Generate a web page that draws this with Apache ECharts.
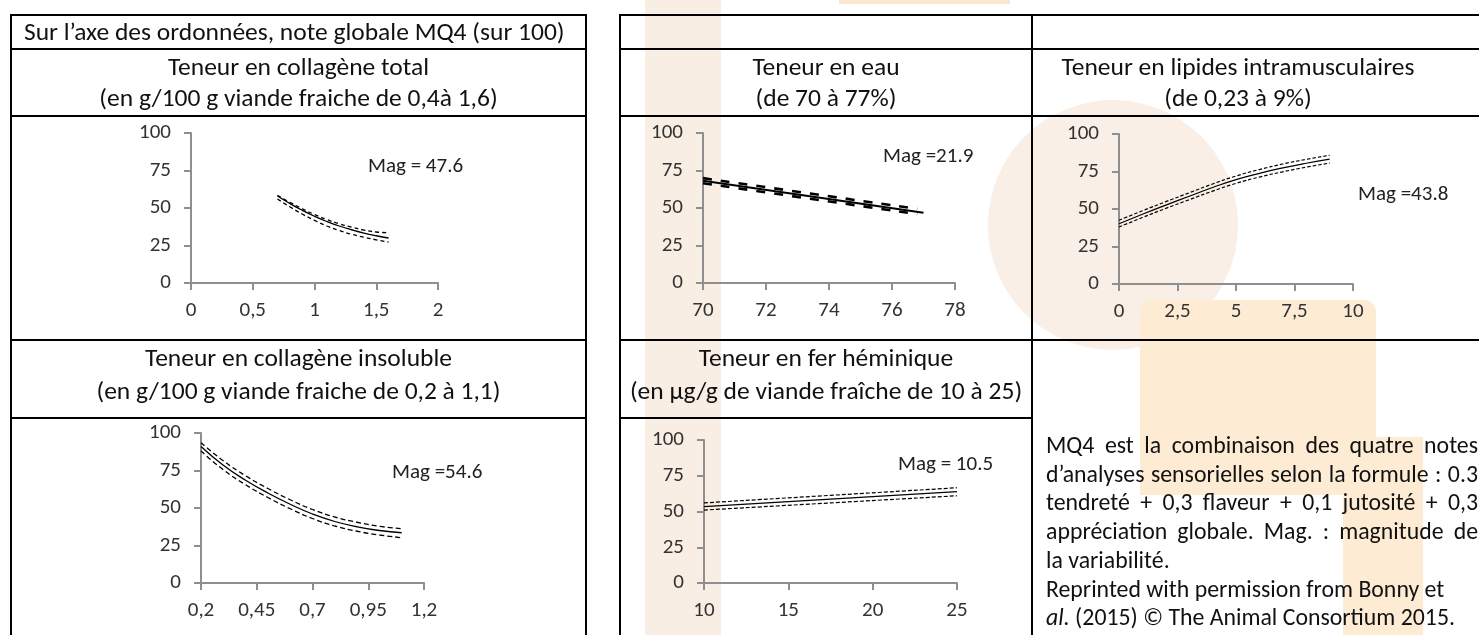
<!DOCTYPE html>
<html>
<head>
<meta charset="utf-8">
<script src="https://cdn.jsdelivr.net/npm/echarts@6/dist/echarts.min.js"></script>
<style>
  html, body { margin: 0; padding: 0; background: #fff; }
  #page { position: relative; width: 1479px; height: 635px; overflow: hidden; font-family: Carlito, Lato, sans-serif; color: #111; }
  .bg { position: absolute; z-index: 0; }
  #chart { position: absolute; left: 0; top: 0; width: 1479px; height: 635px; z-index: 1; }
  .ln { position: absolute; background: #000; z-index: 2; }
  .txt { position: absolute; z-index: 2; white-space: nowrap; font-size: 25.5px; line-height: 31px; text-align: center; }
  .note { position: absolute; z-index: 2; left: 1046px; top: 431px; width: 432px; font-size: 23.8px; line-height: 28.7px; }
  .note div { white-space: nowrap; }
  .note .j { text-align: justify; text-align-last: justify; }
</style>
</head>
<body>
<div id="page">
  <!-- filigrane en fond -->
  <div class="bg" style="left:645px;top:0;width:76px;height:635px;background:#f8eee4"></div>
  <div class="bg" style="left:839px;top:0;width:171px;height:4px;background:#fce8d0"></div>
  <div class="bg" style="left:988px;top:100px;width:250px;height:250px;border-radius:50%;background:#f9efe6"></div>
  <div class="bg" style="left:1140px;top:300px;width:236px;height:195px;border-radius:12px 12px 0 0;background:#fdebd3"></div>
  <div class="bg" style="left:1343px;top:437px;width:80px;height:198px;background:#fdebd3"></div>

  <div id="chart"></div>

  <!-- tableau gauche -->
  <div class="ln" style="left:10px;top:14px;width:2px;height:621px"></div>
  <div class="ln" style="left:585px;top:14px;width:2px;height:621px"></div>
  <div class="ln" style="left:10px;top:14px;width:577px;height:2px"></div>
  <div class="ln" style="left:10px;top:48px;width:577px;height:2px"></div>
  <div class="ln" style="left:10px;top:115px;width:577px;height:2px"></div>
  <div class="ln" style="left:10px;top:339px;width:577px;height:2px"></div>
  <div class="ln" style="left:10px;top:417px;width:577px;height:2px"></div>

  <!-- tableau droit -->
  <div class="ln" style="left:619px;top:14px;width:2px;height:621px"></div>
  <div class="ln" style="left:1031px;top:14px;width:2px;height:621px"></div>
  <div class="ln" style="left:619px;top:14px;width:860px;height:2px"></div>
  <div class="ln" style="left:619px;top:48px;width:860px;height:2px"></div>
  <div class="ln" style="left:619px;top:115px;width:860px;height:2px"></div>
  <div class="ln" style="left:619px;top:339px;width:860px;height:2px"></div>
  <div class="ln" style="left:619px;top:417px;width:413px;height:2px"></div>

  <div class="txt" style="left:24px;top:16px;text-align:left">Sur l’axe des ordonnées, note globale MQ4 (sur 100)</div>
  <div class="txt" style="left:12px;top:51px;width:573px">Teneur en collagène total<br>(en g/100 g viande fraiche de 0,4à 1,6)</div>
  <div class="txt" style="left:12px;top:341px;width:573px;line-height:33px">Teneur en collagène insoluble<br>(en g/100 g viande fraiche de 0,2 à 1,1)</div>
  <div class="txt" style="left:621px;top:51px;width:410px">Teneur en eau<br>(de 70 à 77%)</div>
  <div class="txt" style="left:1033px;top:51px;width:410px">Teneur en lipides intramusculaires<br>(de 0,23 à 9%)</div>
  <div class="txt" style="left:621px;top:341px;width:410px;line-height:33px">Teneur en fer héminique<br>(en µg/g de viande fraîche de 10 à 25)</div>

  <div class="note">
    <div class="j">MQ4 est la combinaison des quatre notes</div>
    <div class="j">d’analyses sensorielles selon la formule : 0.3</div>
    <div class="j">tendreté + 0,3 flaveur + 0,1 jutosité + 0,3</div>
    <div class="j">appréciation globale. Mag. : magnitude de</div>
    <div>la variabilité.</div>
    <div>Reprinted with permission from Bonny et</div>
    <div><i>al.</i> (2015) © The Animal Consortium 2015.</div>
  </div>
</div>

<script>
  // collagène total
  var xTot = [0.7, 0.8, 0.9, 1.0, 1.1, 1.2, 1.3, 1.4, 1.5, 1.6]
  var midTot = [58, 53, 48.5, 44.5, 41, 38, 35.5, 33.3, 31.5, 30]
  var upTot = [58.5, 53.8, 49.5, 45.7, 42.3, 39.5, 37.2, 35.3, 34, 33.5]
  var loTot = [56, 50.8, 46, 41.8, 38, 35, 32.5, 30.5, 28.8, 27.3]

  // teneur en eau
  var xEau = [70, 77]
  var midEau = [68.2, 46.9]
  var xEauBand = [70, 76.8]
  var upEau = [69.9, 49.4]
  var loEau = [66.5, 45.9]

  // lipides intramusculaires
  var xLip = [0, 1, 2, 3, 4, 5, 6, 7, 8, 9]
  var midLip = [40.2, 46.5, 52.6, 58.5, 64.3, 69.6, 73.8, 77.4, 80.5, 83.2]
  var upLip = [42.5, 48.8, 54.9, 60.8, 66.7, 72, 76.3, 80, 83.1, 85.8]
  var loLip = [38, 44.3, 50.4, 56.2, 61.9, 67.1, 71.3, 74.8, 77.9, 80.6]

  // collagène insoluble
  var xIns = [0.2, 0.3, 0.4, 0.5, 0.6, 0.7, 0.8, 0.9, 1.0, 1.1]
  var midIns = [91, 78.5, 68.5, 60, 52.5, 46, 41, 37.5, 35, 33.5]
  var upIns = [93.5, 81.5, 71.5, 63, 55.5, 49, 44, 40.5, 37.8, 36.2]
  var loIns = [88, 75.5, 65.5, 57, 49.5, 43, 38, 34.5, 32, 30.2]

  // fer héminique
  var xFer = [10, 25]
  var midFer = [53.4, 63.9]
  var upFer = [56, 66.6]
  var loFer = [51, 61]

  var mags = ['Mag = 47.6', 'Mag =21.9', 'Mag =43.8', 'Mag =54.6', 'Mag = 10.5']

  var axisGrey = '#8f8f8f'
  var labelColor = '#333'
  var fontFam = 'Carlito, Lato, sans-serif'

  function pairs(xs, ys) {
    return xs.map(function (x, i) { return [x, ys[i]] })
  }
  function fmt(v) {
    return String(Math.round(v * 100) / 100).replace('.', ',')
  }

  var grids = [
    { left: 191, top: 133, width: 247, height: 150 },
    { left: 703, top: 133, width: 252, height: 150 },
    { left: 1119, top: 134, width: 234, height: 150 },
    { left: 201, top: 433, width: 223, height: 150 },
    { left: 704, top: 440, width: 253, height: 143 }
  ]
  var xRanges = [
    { min: 0, max: 2, interval: 0.5 },
    { min: 70, max: 78, interval: 2 },
    { min: 0, max: 10, interval: 2.5 },
    { min: 0.2, max: 1.2, interval: 0.25 },
    { min: 10, max: 25, interval: 5 }
  ]
  var magPos = [[368, 156], [883, 146], [1358, 184], [392, 462], [898, 454]]

  var xAxes = xRanges.map(function (r, i) {
    return {
      type: 'value', gridIndex: i, min: r.min, max: r.max, interval: r.interval,
      splitLine: { show: false },
      axisLine: { lineStyle: { color: axisGrey, width: 2 } },
      axisTick: { length: 7, lineStyle: { color: axisGrey, width: 2 } },
      axisLabel: { color: labelColor, fontSize: 21, fontFamily: fontFam, margin: 17, formatter: fmt }
    }
  })
  var yAxes = grids.map(function (g, i) {
    return {
      type: 'value', gridIndex: i, min: 0, max: 100, interval: 25,
      splitLine: { show: false },
      axisLine: { show: true, lineStyle: { color: axisGrey, width: 2 } },
      axisTick: { show: true, length: 7, lineStyle: { color: axisGrey, width: 2 } },
      axisLabel: { color: labelColor, fontSize: 21, fontFamily: fontFam, margin: 20 }
    }
  })

  function line(idx, xs, ys, w, dash) {
    return {
      type: 'line', xAxisIndex: idx, yAxisIndex: idx, data: pairs(xs, ys),
      smooth: true, showSymbol: false, symbol: 'none', silent: true,
      lineStyle: { color: '#000', width: w, type: dash || 'solid' }
    }
  }

  var series = [
    line(0, xTot, midTot, 1.3), line(0, xTot, upTot, 1.3, [4, 3]), line(0, xTot, loTot, 1.3, [4, 3]),
    line(1, xEau, midEau, 2), line(1, xEauBand, upEau, 2.6, [9, 9]), line(1, xEauBand, loEau, 2.6, [9, 9]),
    line(2, xLip, midLip, 1.2), line(2, xLip, upLip, 1.2, [3.5, 2]), line(2, xLip, loLip, 1.2, [3.5, 2]),
    line(3, xIns, midIns, 1.3), line(3, xIns, upIns, 1.3, [5, 3]), line(3, xIns, loIns, 1.3, [5, 3]),
    line(4, xFer, midFer, 1.3), line(4, xFer, upFer, 1.2, [4, 2]), line(4, xFer, loFer, 1.2, [4, 2])
  ]

  var titles = mags.map(function (m, i) {
    return {
      text: m, left: magPos[i][0], top: magPos[i][1], padding: 0,
      textStyle: { fontSize: 21, fontWeight: 'normal', color: '#222', fontFamily: fontFam }
    }
  })

  var chart = echarts.init(document.getElementById('chart'), null, { renderer: 'canvas' })
  chart.setOption({
    animation: false,
    backgroundColor: 'transparent',
    title: titles,
    grid: grids,
    xAxis: xAxes,
    yAxis: yAxes,
    series: series
  })
</script>
</body>
</html>
